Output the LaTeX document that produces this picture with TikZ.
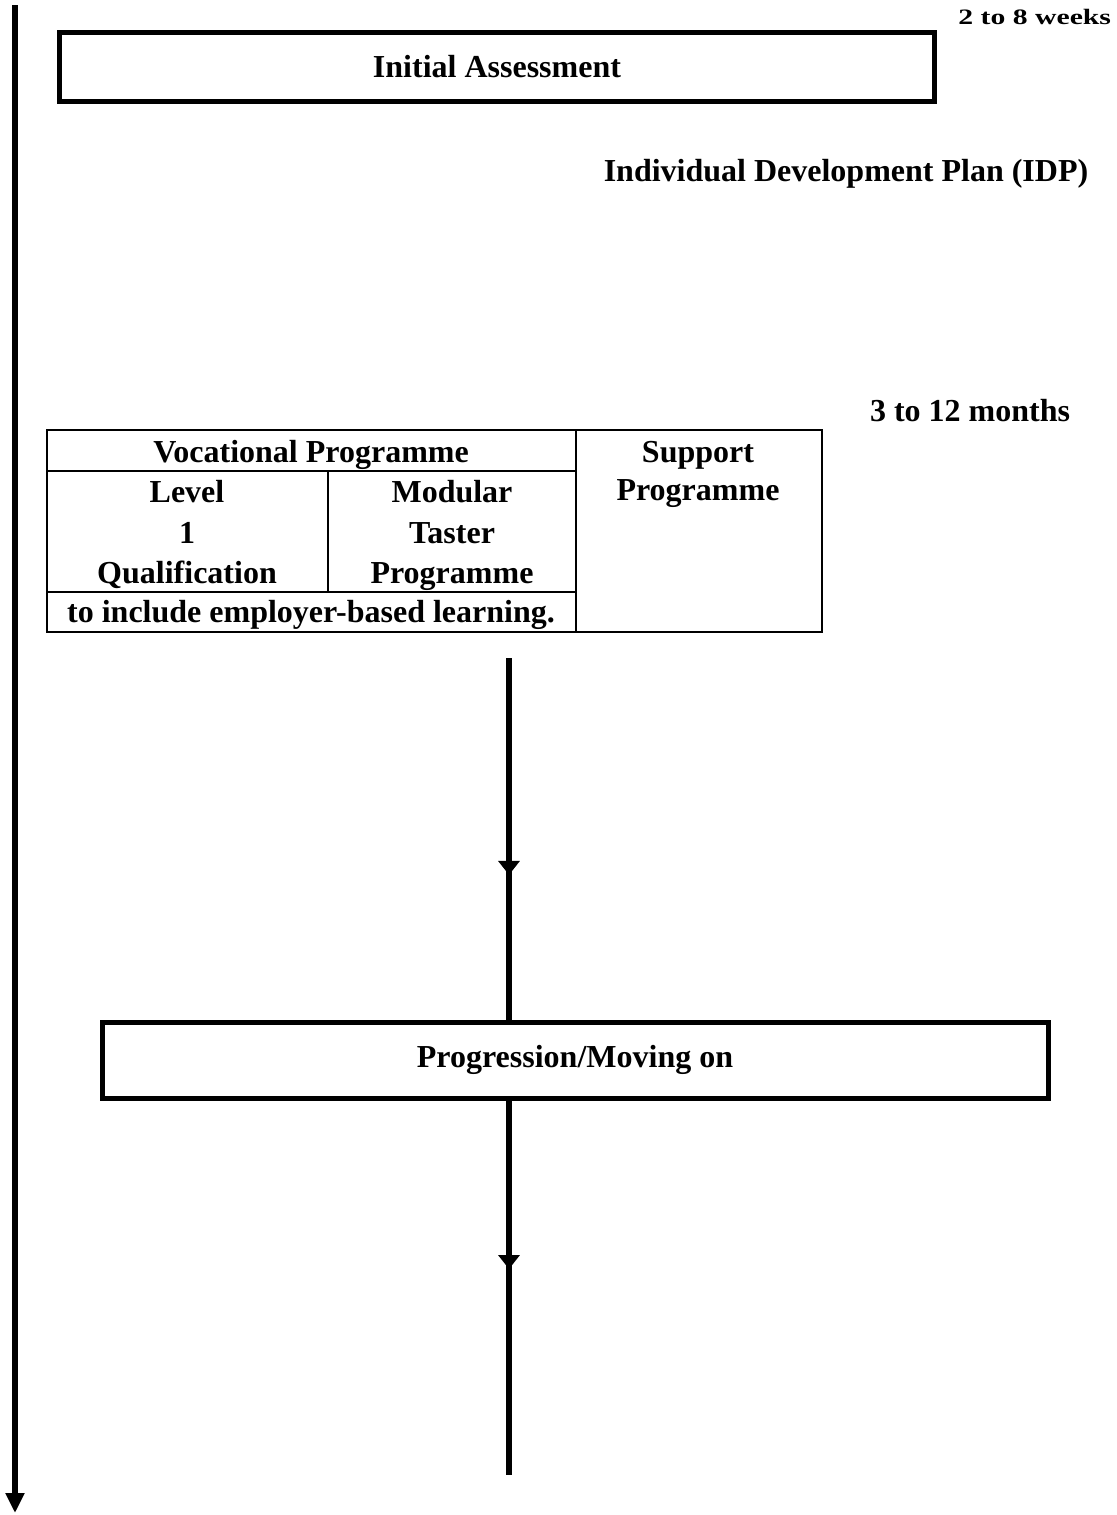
\documentclass[tikz,border=0pt]{standalone}
\usepackage{fontspec}
\setmainfont{Liberation Serif}
\usetikzlibrary{arrows.meta,decorations.markings}
\begin{document}
\begin{tikzpicture}[x=0.5pt,y=-0.5pt,
  txt/.style={font=\fontsize{16}{19}\selectfont\bfseries, inner sep=0pt, anchor=base},
  thickbox/.style={draw, line width=2.5pt, inner sep=0pt, font=\fontsize{16}{19}\selectfont\bfseries},
  cell/.style={draw, line width=1pt},
  flow/.style={line width=3pt},
  midarrow/.style={postaction={decorate}, decoration={markings, mark=at position #1 with {\arrow{Triangle[width=10.5pt,length=7pt]}}}},
]
\useasboundingbox[fill=white] (0,0) rectangle (1117,1515);

% time axis
\coordinate (lt) at (15,5);
\coordinate (lb) at (15,1513);
\draw[line width=3pt, -{Triangle[width=9pt,length=10pt]}] (lt) -- (lb);

% top
\node[thickbox, minimum width=437.5pt, minimum height=34.5pt] (init) at (497,67) {Initial Assessment};
\node[txt, anchor=base west, font=\fontsize{11}{13}\selectfont\bfseries] (weeks) at (958,25) {\scalebox{1.35}[1]{2 to 8 weeks}};
\node[txt] (idp) at (846,181) {Individual Development Plan (IDP)};
\node[txt] (months) at (970,421) {3 to 12 months};

% table
\draw[cell] (47,430) rectangle (822,632);
\draw[cell] (576,430) -- (576,632);
\draw[cell] (47,471) -- (576,471);
\draw[cell] (47,592) -- (576,592);
\draw[cell] (328,471) -- (328,592);

\node[txt] (voc) at (311,462) {Vocational Programme};
\node[txt] (sup1) at (698,462) {Support};
\node[txt] (sup2) at (698,500) {Programme};
\node[txt] (lev1) at (187,502) {Level};
\node[txt] (lev2) at (187,543) {1};
\node[txt] (lev3) at (187,583) {Qualification};
\node[txt] (mod1) at (452,502) {Modular};
\node[txt] (mod2) at (452,543) {Taster};
\node[txt] (mod3) at (452,583) {Programme};
\node[txt] (empl) at (311,622) {to include employer-based learning.};

% progression
\node[thickbox, minimum width=473pt, minimum height=38pt] (prog) at (575,1060) {Progression/Moving on};

\coordinate (c1) at (509,658);
\draw[flow, midarrow=0.6] (c1) -- (c1 |- prog.north);
\coordinate (c2) at (509,1475);
\draw[flow, midarrow=0.45] (c2 |- prog.south) -- (c2);
\end{tikzpicture}
\end{document}
